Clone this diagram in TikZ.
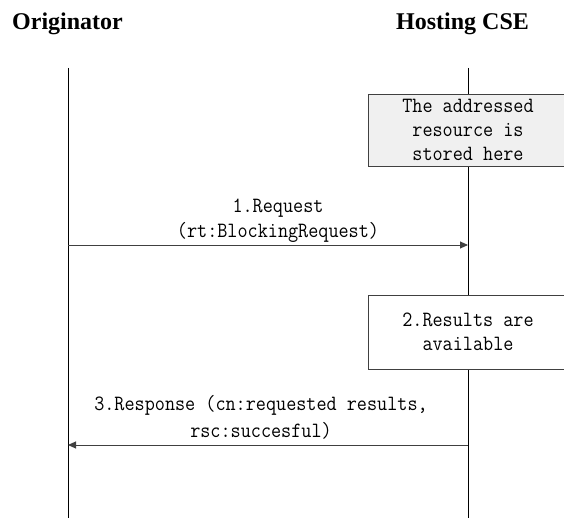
\documentclass[tikz,border=0pt]{standalone}
\usepackage{fontspec}
\setmainfont{Liberation Serif}
\setmonofont[FakeStretch=0.9]{Latin Modern Mono}
\usetikzlibrary{arrows.meta}
\definecolor{notegray}{HTML}{F0F0F0}
\definecolor{edgegray}{HTML}{404040}
\tikzset{
  title/.style={font=\fontsize{24}{28}\selectfont\bfseries, anchor=base, inner sep=0pt},
  lifeline/.style={draw=black, line width=1pt},
  msg/.style={draw=black!75, line width=0.9pt, -{Triangle[length=8pt,width=7pt]}},
  msgtext/.style={font=\ttfamily\fontsize{21.8}{24}\selectfont, anchor=base, inner sep=0pt},
  notebox/.style={draw=edgegray, line width=0.9pt, minimum width=200pt, align=center,
    font=\ttfamily\fontsize{21.8}{24}\selectfont, inner sep=0pt}
}
\begin{document}
\begin{tikzpicture}[x=1pt, y=-1pt]
  \useasboundingbox (0,0) rectangle (564,518);

  % participants
  \node[title] (orig) at (67.5,30) {Originator};
  \node[title] (host) at (462.5,30) {Hosting CSE};

  % lifelines
  \coordinate (oTop) at (68,68);
  \coordinate (oBot) at (68,518);
  \coordinate (hTop) at (468,68);
  \coordinate (hBot) at (468,518);
  \draw[lifeline] (oTop) -- (oBot);
  \draw[lifeline] (hTop) -- (hBot);

  % notes on the hosting CSE
  \node[notebox, fill=notegray, minimum height=72pt] (stored) at (468,130)
    {The addressed\\resource is\\stored here};
  \node[notebox, fill=white, minimum height=74pt] (results) at (468,332)
    {2.Results are\\available};

  % 1. request
  \coordinate (reqFrom) at (68,245);
  \coordinate (reqTo) at (468,245);
  \draw[msg] (reqFrom) -- (reqTo);
  \node[msgtext] (reqA) at (278,213) {1.Request};
  \node[msgtext] (reqB) at (278,238) {(rt:BlockingRequest)};

  % 3. response
  \coordinate (rspFrom) at (468,445);
  \coordinate (rspTo) at (68,445);
  \draw[msg] (rspFrom) -- (rspTo);
  \node[msgtext] (rspA) at (261,410) {3.Response (cn:requested results,};
  \node[msgtext] (rspB) at (261,437) {rsc:succesful)};
\end{tikzpicture}
\end{document}
